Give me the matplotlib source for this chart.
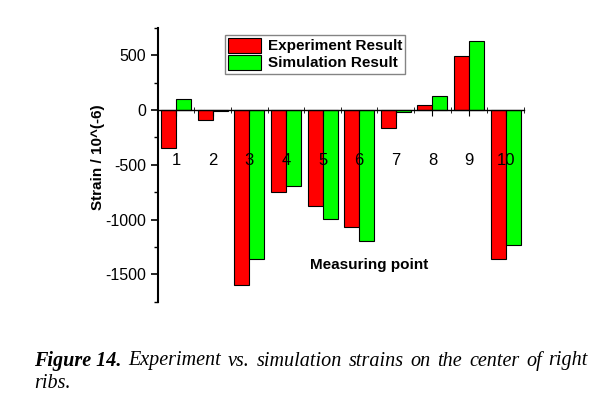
import numpy as np
import matplotlib
matplotlib.use("Agg")
import matplotlib.pyplot as plt
from matplotlib.ticker import MultipleLocator, FixedLocator

plt.rcParams["font.family"] = ["Liberation Sans", "DejaVu Sans"]
plt.rcParams["axes.unicode_minus"] = False

points = [1, 2, 3, 4, 5, 6, 7, 8, 9, 10]
experiment = [-348, -91, -1598, -744, -878, -1067, -165, 46, 491, -1360]
simulation = [98, -12, -1357, -689, -991, -1199, -21, 128, 629, -1229]

fig = plt.figure(figsize=(6.15, 4.07), dpi=100)
ax = fig.add_axes([157.7 / 615, 1 - 301.7 / 407, (524 - 157.7) / 615, (301.7 - 28) / 407])

x = np.array(points)
w = 0.41
ax.bar(x - w / 2, experiment, w, color="#ff0000", edgecolor="black", linewidth=0.8,
       label="Experiment Result")
ax.bar(x + w / 2, simulation, w, color="#00ff00", edgecolor="black", linewidth=0.8,
       label="Simulation Result")

ax.set_xlim(0.5, 10.5)
ax.set_ylim(-1750, 750)

ax.spines["top"].set_visible(False)
ax.spines["right"].set_visible(False)
ax.spines["bottom"].set_position(("data", 0))
ax.spines["left"].set_linewidth(1.5)
ax.spines["bottom"].set_linewidth(1.0)

ax.set_xticks(points)
ax.set_xticklabels([str(p) for p in points], fontsize=12)
ax.xaxis.set_minor_locator(FixedLocator(np.arange(0.5, 11, 1)))
ax.tick_params(axis="x", which="major", direction="out", length=4, pad=27)
ax.tick_params(axis="x", which="minor", direction="inout", length=4)

ax.yaxis.set_major_locator(MultipleLocator(500))
ax.yaxis.set_minor_locator(MultipleLocator(250))
ax.tick_params(axis="y", which="major", direction="out", length=5, width=1.2, labelsize=11.5)
ax.tick_params(axis="y", which="minor", direction="out", length=3, width=1.0)

ax.set_ylabel("Strain / 10^(-6)", fontsize=11, fontweight="bold")
ax.yaxis.set_label_coords(-0.145, 0.527)
ax.text(6.28, -1418, "Measuring point", fontsize=11, fontweight="bold",
        ha="center", va="center")

leg = ax.legend(loc="upper left", bbox_to_anchor=(0.183, 0.975),
                prop={"weight": "bold", "size": 11}, frameon=True, fancybox=False,
                borderpad=0.2, handlelength=2.2, handleheight=1.1,
                labelspacing=0.1, handletextpad=0.4, borderaxespad=0)
leg.get_frame().set_edgecolor("#666666")
leg.get_frame().set_linewidth(1.0)

# caption, justified on the first line
cap_font = dict(fontsize=14.5, family="Liberation Serif", style="italic", va="center")
words = ["Figure 14.", "Experiment", "vs.", "simulation", "strains", "on", "the",
         "center", "of", "right"]
left, right = 34, 588
y1 = 1 - 361 / 407
fig.canvas.draw()
r = fig.canvas.get_renderer()
texts = []
for i, wd in enumerate(words):
    t = fig.text(0, y1, wd, fontweight="bold" if i == 0 else "normal", **cap_font)
    texts.append(t)
widths = [t.get_window_extent(r).width for t in texts]
gap = (right - left - sum(widths)) / (len(words) - 1)
pos = left
for t, wdt in zip(texts, widths):
    t.set_x(pos / 615)
    pos += wdt + gap
fig.text(left / 615, 1 - 383 / 407, "ribs.", **cap_font)

fig.savefig("out.png", dpi=100)
